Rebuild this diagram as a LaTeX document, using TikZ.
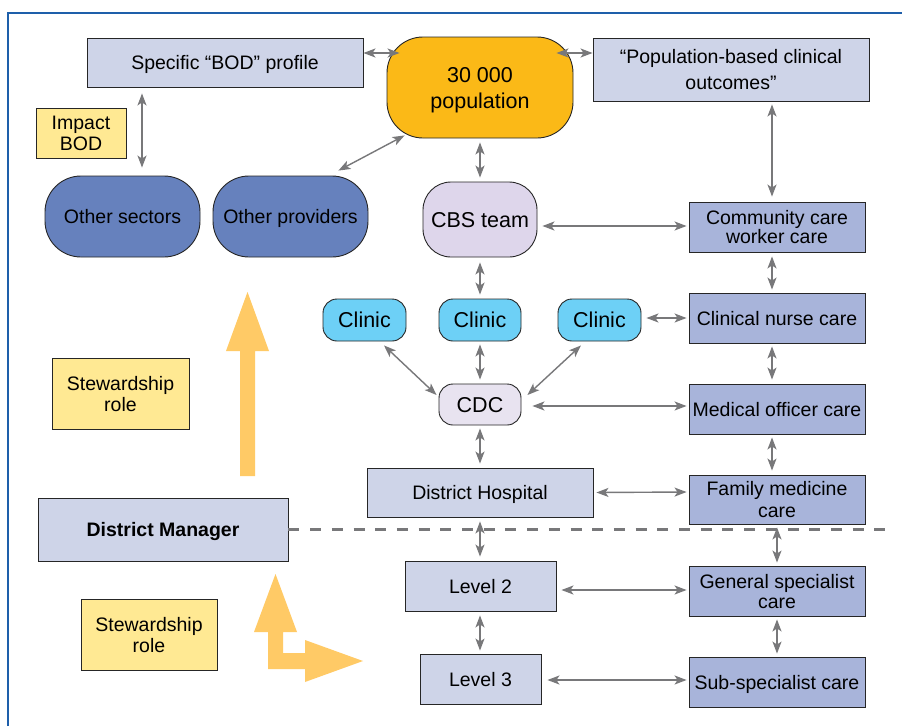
\documentclass[tikz,border=0pt]{standalone}
\usepackage{fontspec}
\setmainfont{Liberation Sans}
\usetikzlibrary{arrows.meta,calc}
\definecolor{boxlight}{RGB}{206,212,232}
\definecolor{boxdark}{RGB}{168,180,218}
\definecolor{popc}{RGB}{251,185,23}
\definecolor{otherc}{RGB}{102,129,189}
\definecolor{cbsc}{RGB}{222,214,235}
\definecolor{cdcc}{RGB}{232,227,240}
\definecolor{clinicc}{RGB}{109,208,246}
\definecolor{yellowc}{RGB}{255,233,147}
\definecolor{bigarrowc}{RGB}{255,202,102}
\definecolor{conngray}{RGB}{120,120,122}
\definecolor{framec}{RGB}{30,95,170}
\begin{document}
\begin{tikzpicture}[x=1pt,y=-1pt,
  box/.style={draw=black!85, line width=0.9pt, align=center, inner sep=0pt, text depth=0pt,
    font=\fontsize{19.5}{21}\selectfont},
  lightbox/.style={box, fill=boxlight},
  darkbox/.style={box, fill=boxdark, minimum width=176pt, minimum height=50pt},
  yellowbox/.style={box, fill=yellowc},
  bigtext/.style={font=\fontsize{21.5}{26}\selectfont},
  clinicbox/.style={box, bigtext, fill=clinicc, rounded corners=14pt, minimum width=83pt, minimum height=42pt},
  otherbox/.style={box, fill=otherc, rounded corners=36pt, minimum width=155pt, minimum height=81pt},
  conn/.style={draw=conngray, line width=1.4pt,
    {Stealth[length=12pt,width=9pt,inset=3pt]}-{Stealth[length=12pt,width=9pt,inset=3pt]}},
  dashline/.style={draw=conngray, line width=3pt, dash pattern=on 11pt off 10.7pt},
  bigarrow/.style={fill=bigarrowc, draw=none}
]
\useasboundingbox (0,0) rectangle (902,726);
\fill[white] (0,0) rectangle (902,726);

% frame
\draw[framec, line width=2.5pt] (8,726) -- (8,13) -- (902,13);

% nodes
\node[lightbox, minimum width=276pt, minimum height=49pt] (bod) at (225,62.5) {Specific “BOD” profile};
\node[box, bigtext, fill=popc, rounded corners=36pt, minimum width=186pt, minimum height=101pt] (pop) at (480,87.5) {30 000\\population};
\node[lightbox, minimum width=276pt, minimum height=63pt, font=\fontsize{19.5}{26}\selectfont] (pbc) at (731,69.5) {“Population-based clinical\\outcomes”};
\node[yellowbox, minimum width=90pt, minimum height=50pt] (impact) at (81,133) {Impact\\BOD};
\node[otherbox] (osec) at (122.5,216.5) {Other sectors};
\node[otherbox] (oprov) at (290.5,216.5) {Other providers};
\node[box, bigtext, fill=cbsc, rounded corners=28pt, minimum width=114pt, minimum height=75pt] (cbs) at (480,219.5) {CBS team};
\node[darkbox, font=\fontsize{19.5}{19.5}\selectfont] (ccw) at (777,227) {Community care\\worker care};
\node[clinicbox] (cl1) at (364.5,320) {Clinic};
\node[clinicbox, minimum width=82pt] (cl2) at (480,320) {Clinic};
\node[clinicbox] (cl3) at (599.5,320) {Clinic};
\node[darkbox] (cnc) at (777,318) {Clinical nurse care};
\node[box, bigtext, fill=cdcc, rounded corners=14pt, minimum width=82pt, minimum height=41pt] (cdc) at (480,404.5) {CDC};
\node[darkbox] (moc) at (777,409) {Medical officer care};
\node[yellowbox, minimum width=137pt, minimum height=71pt] (stew1) at (120.5,393.5) {Stewardship\\role};
\node[lightbox, minimum width=226pt, minimum height=49pt] (dh) at (480,492.5) {District Hospital};
\node[darkbox, minimum height=49pt, font=\fontsize{19.5}{22}\selectfont] (fmc) at (777,499.5) {Family medicine\\care};
\node[lightbox, minimum width=250pt, minimum height=63pt, font=\fontsize{19.5}{21}\selectfont\bfseries] (dm) at (163,529.5) {District Manager};
\node[lightbox, minimum width=151pt, minimum height=50pt] (lv2) at (480.5,586) {Level 2};
\node[darkbox, font=\fontsize{19.5}{20}\selectfont] (gsc) at (777,591) {General specialist\\care};
\node[lightbox, minimum width=121pt, minimum height=50pt] (lv3) at (480.5,679) {Level 3};
\node[darkbox] (ssc) at (777,682) {Sub-specialist care};
\node[yellowbox, minimum width=136pt, minimum height=71pt] (stew2) at (149,634.5) {Stewardship\\role};

% big arrows
\path[bigarrow] (240,476) -- (240,351) -- (226,351) -- (247.5,292) -- (269,351) -- (255,351) -- (255,476) -- cycle;
\path[bigarrow] (268,669) -- (305,669) -- (305,682) -- (363,661) -- (305,640) -- (305,653)
  -- (283,653) -- (283,632) -- (297,632) -- (275.5,574) -- (254,632) -- (268,632) -- cycle;

% dashed line
\coordinate (dashend) at (887,529.5);
\draw[dashline] (dm.east) -- (dashend);

% connectors
\draw[conn] ($(bod.east)+(0,-9.5)$) -- ($(pop.west)+(13,-34.5)$);
\draw[conn] ($(pop.east)+(-17,-34.5)$) -- ($(pbc.west)+(0,-16.5)$);
\draw[conn] ($(bod.south)+(-83,6)$) -- ($(osec.north)+(19.5,-8)$);
\draw[conn] ($(pop.south west)+(18,-3)$) -- ($(oprov.north east)+(-30,-5)$);
\draw[conn] ($(pop.south)+(0,4)$) -- ($(cbs.north)+(0,-4)$);
\draw[conn] ($(cbs.east)+(5,6.5)$) -- ($(ccw.west)+(-2,-1)$);
\draw[conn] ($(pbc.south)+(41,3)$) -- ($(ccw.north)+(-5,-5)$);
\draw[conn] ($(cbs.south)+(0,5)$) -- ($(cl2.north)+(0,-4)$);
\draw[conn] ($(ccw.south)+(-5,4)$) -- ($(cnc.north)+(-5,-3)$);
\draw[conn] ($(cl3.east)+(5,-2)$) -- ($(cnc.west)+(-2,0)$);
\draw[conn] ($(cl1.south)+(19.5,4)$) -- ($(cdc.west)+(-2,-9.5)$);
\draw[conn] ($(cl2.south)+(0,3)$) -- ($(cdc.north)+(0,-4)$);
\draw[conn] ($(cl3.south)+(-18.5,4)$) -- ($(cdc.east)+(6,-9.5)$);
\draw[conn] ($(cnc.south)+(-5,3)$) -- ($(moc.north)+(-5,-4)$);
\draw[conn] ($(cdc.east)+(11,1.5)$) -- ($(moc.west)+(-2,-3)$);
\draw[conn] ($(cdc.south)+(0,3)$) -- ($(dh.north)+(0,-4)$);
\draw[conn] ($(moc.south)+(-5,3)$) -- ($(fmc.north)+(-5,-4)$);
\draw[conn] ($(dh.east)+(3,0)$) -- ($(fmc.west)+(-2,-7.5)$);
\draw[conn] ($(dh.south)+(0,4)$) -- ($(lv2.north)+(-0.5,-4)$);
\draw[conn] ($(fmc.south)+(0,3)$) -- ($(gsc.north)+(0,-3)$);
\draw[conn] ($(lv2.east)+(5,4)$) -- ($(gsc.west)+(-2,-1)$);
\draw[conn] ($(lv2.south)+(-0.5,4)$) -- ($(lv3.north)+(-0.5,-3)$);
\draw[conn] ($(gsc.south)+(0,3)$) -- ($(ssc.north)+(0,-3)$);
\draw[conn] ($(lv3.east)+(6,1)$) -- ($(ssc.west)+(-2,-2)$);
\end{tikzpicture}
\end{document}
